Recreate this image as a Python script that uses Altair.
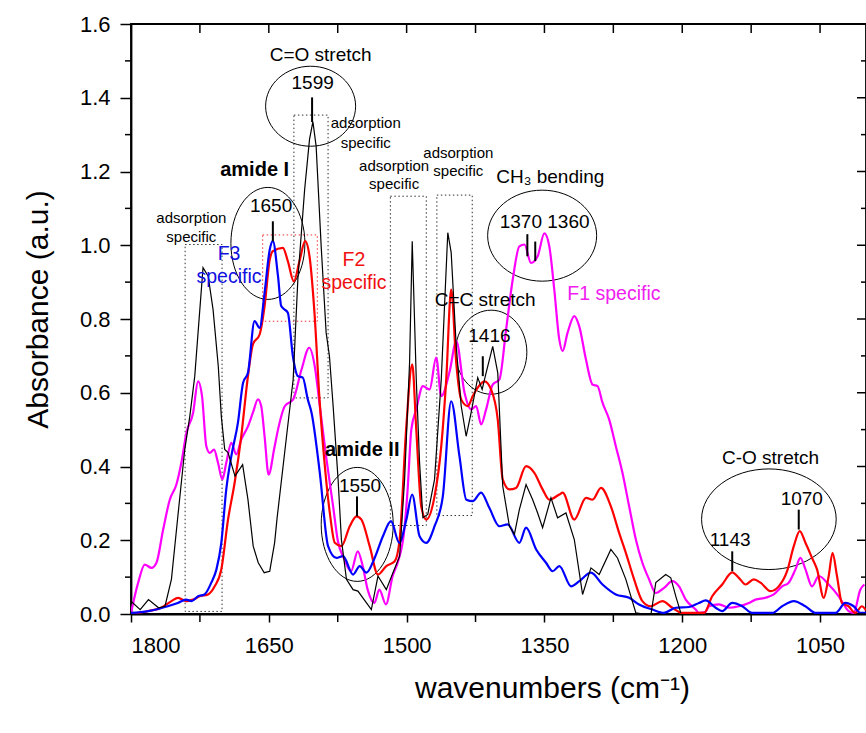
import altair as alt
import pandas as pd

# ---------------- spectra (wavenumber cm-1, absorbance) ----------------
black_w = [1800, 1790, 1781, 1770, 1763, 1756, 1749, 1741.5, 1736, 1730.6, 1727, 1721.6, 1716, 1710.7,
           1705, 1701.7, 1698, 1694.4, 1686.8, 1678.5, 1672.7, 1667, 1661.5, 1655, 1649, 1643.7, 1641,
           1630.7, 1623.5, 1618.4, 1611, 1605.7, 1602, 1598.5, 1593, 1587.6, 1584, 1580, 1574.6, 1571,
           1565.5, 1558.3, 1553, 1538.4, 1531.2, 1522.1, 1514.9, 1507.6, 1502.2, 1496.8, 1493.9, 1489.5,
           1485.9, 1482.3, 1477, 1469.6, 1462.3, 1455.2, 1451.5, 1446, 1440.6, 1435.2, 1429.8, 1422.6,
           1417.8, 1413.5, 1406.3, 1400.8, 1395.4, 1388.1, 1382.7, 1377.3, 1370, 1362.8, 1357.4, 1352,
           1342.9, 1335.7, 1326.6, 1317.5, 1308.5, 1299.4, 1290.4, 1277.7, 1270.5, 1261.4, 1250.5, 1242,
           1234, 1228.8, 1218, 1212.5, 1207, 1201.6]
black_a = [0.035, 0.012, 0.039, 0.017, 0.021, 0.094, 0.265, 0.446, 0.536, 0.645, 0.763, 0.939, 0.916, 0.826,
           0.672, 0.536, 0.446, 0.438, 0.374, 0.405, 0.31, 0.184, 0.139, 0.112, 0.116, 0.193, 0.26,
           0.482, 0.636, 0.907, 1.151, 1.287, 1.335, 1.269, 0.997, 0.763, 0.699, 0.564, 0.365, 0.202,
           0.094, 0.066, 0.062, 0.012, 0.103, 0.066, 0.112, 0.157, 0.365, 0.681, 1.011, 0.636,
           0.41, 0.261, 0.27, 0.365, 0.636, 1.034, 0.98, 0.726, 0.564, 0.482, 0.546, 0.641,
           0.609, 0.654, 0.726, 0.654, 0.347, 0.238, 0.216, 0.283, 0.351, 0.31, 0.274, 0.234,
           0.315, 0.261, 0.274, 0.202, 0.053, 0.125, 0.107, 0.175, 0.152, 0.094, 0.003, 0.0,
           0.0, 0.085, 0.107, 0.098, 0.048, 0.003]

blue_w = [1800, 1781, 1760, 1749, 1740, 1734, 1727, 1720, 1712.6, 1707, 1701.7, 1696.3, 1690.8, 1683.6,
          1678, 1672.7, 1665.5, 1660, 1654.6, 1649, 1645.6, 1640, 1636.5, 1632.9, 1629.3, 1623.8, 1618.4,
          1613, 1607.6, 1603.5, 1594.5, 1585.5, 1576.4, 1569.2, 1558.3, 1551, 1543.8, 1534.8, 1525.8,
          1517, 1508, 1500.3, 1494, 1485.9, 1478.6, 1469.6, 1460.6, 1451.5, 1442.5, 1435, 1428, 1419,
          1410, 1399, 1390, 1377.3, 1370, 1359, 1348.3, 1341, 1333.8, 1321, 1312, 1299.4, 1286.8,
          1272.3, 1257.8, 1247, 1232.5, 1220, 1207, 1192.6, 1181.8, 1174.5, 1163.6, 1156.5, 1145.6,
          1134.7, 1124, 1102, 1091.3, 1078.6, 1066, 1055, 1033, 1022.4, 1013.4, 1006, 1000]
blue_a = [0.003, 0.008, 0.021, 0.03, 0.039, 0.035, 0.048, 0.053, 0.085, 0.121, 0.193, 0.338, 0.428, 0.519,
          0.627, 0.654, 0.794, 0.776, 0.871, 0.988, 1.011, 0.916, 0.835, 0.826, 0.817, 0.699, 0.645,
          0.641, 0.582, 0.546, 0.383, 0.184, 0.152, 0.157, 0.107, 0.13, 0.112, 0.152, 0.211,
          0.252, 0.193, 0.256, 0.324, 0.211, 0.193, 0.238, 0.319, 0.577, 0.428, 0.31, 0.306, 0.329,
          0.288, 0.238, 0.243, 0.193, 0.234, 0.175, 0.139, 0.116, 0.13, 0.075, 0.089, 0.112, 0.08,
          0.053, 0.044, 0.026, 0.012, 0.003, 0.017, 0.019, 0.03, 0.037, 0.017, 0.008, 0.03,
          0.021, 0.003, 0.003, 0.021, 0.035, 0.021, 0.003, 0.003, 0.03, 0.021, 0.003, 0.003]

red_w = [1800, 1781, 1767, 1756, 1748.7, 1739.7, 1732.4, 1725.2, 1716.2, 1708.9, 1701.7, 1694.4, 1687.2,
         1680, 1672.7, 1667.3, 1660, 1654.6, 1649, 1645.6, 1634.7, 1629.3, 1622.8, 1616.6, 1610.5, 1605.7,
         1600.3, 1594.8, 1590.9, 1583.6, 1578.2, 1571, 1561.9, 1554.6, 1549.2, 1540.2, 1531.2, 1522.1,
         1513, 1507.6, 1500.3, 1493.9, 1489.5, 1484.1, 1478.6, 1469.6, 1462.3, 1456.9, 1451.5, 1446,
         1440.6, 1433.5, 1428, 1422.6, 1415.3, 1408.1, 1400.8, 1395.4, 1388.1, 1380.9, 1370, 1361, 1352,
         1344.7, 1333.8, 1330.2, 1317.5, 1304.8, 1297.6, 1288.5, 1277.7, 1268.7, 1261.4, 1252.4, 1243.4,
         1234.3, 1221.6, 1210.8, 1200, 1176.4, 1167.4, 1156.5, 1145.6, 1138.4, 1131.1, 1122.1, 1114.8,
         1104, 1095, 1085.9, 1078.6, 1072.1, 1065.9, 1058.7, 1053.3, 1046, 1040.6, 1036.4, 1031.6,
         1026.2, 1019, 1011.7, 1004.5, 1000]
red_a = [0.0, 0.008, 0.017, 0.035, 0.044, 0.035, 0.039, 0.048, 0.053, 0.075, 0.121, 0.256, 0.356,
         0.482, 0.645, 0.731, 0.758, 0.835, 0.961, 0.984, 0.993, 0.957, 0.902, 0.957, 1.011, 0.97,
         0.817, 0.582, 0.455, 0.274, 0.193, 0.184, 0.238, 0.265, 0.256, 0.184, 0.107, 0.13,
         0.143, 0.202, 0.51, 0.677, 0.5, 0.292, 0.256, 0.319, 0.455, 0.636, 0.88, 0.681,
         0.582, 0.564, 0.591, 0.614, 0.631, 0.609, 0.527, 0.365, 0.338, 0.342, 0.401, 0.383, 0.338,
         0.31, 0.324, 0.329, 0.256, 0.315, 0.31, 0.342, 0.292, 0.22, 0.166, 0.094, 0.035,
         0.021, 0.035, 0.017, 0.003, 0.003, 0.048, 0.08, 0.113, 0.098, 0.08, 0.094, 0.085,
         0.062, 0.075, 0.116, 0.184, 0.225, 0.193, 0.152, 0.121, 0.044, 0.103, 0.166, 0.103,
         0.03, 0.021, 0.003, 0.021, 0.01]

magenta_w = [1800, 1792.2, 1785, 1777.7, 1772.3, 1765, 1757.8, 1750.6, 1745.2, 1739.7, 1732.4, 1727,
             1722.7, 1718, 1714.3, 1709.6, 1705.3, 1700.6, 1696.3, 1690.8, 1685.4, 1680, 1672.7, 1667.3,
             1661.8, 1658.3, 1654.6, 1650.2, 1644, 1640, 1632.5, 1623.5, 1614.4, 1606, 1600, 1594.5,
             1587.2, 1580, 1575, 1567.7, 1560.5, 1553.2, 1547.8, 1542.4, 1535.1, 1529.7, 1522.5, 1515.2,
             1509.8, 1502.5, 1498.9, 1494.9, 1489.5, 1482.3, 1475, 1467.8, 1462.3, 1453, 1446, 1437,
             1429.8, 1424.3, 1418.9, 1413.5, 1406.3, 1399, 1391.7, 1384.5, 1377.3, 1371.8, 1364.6, 1357.4,
             1350.1, 1344.7, 1339.3, 1333.8, 1330.2, 1324.8, 1317.5, 1312.1, 1304.8, 1297.6, 1292.2,
             1286.8, 1279.5, 1272.3, 1265.1, 1257.8, 1250.5, 1243.4, 1236.1, 1228.8, 1219.8, 1210.8,
             1203.5, 1196.2, 1185.4, 1181.8, 1175, 1170.9, 1160, 1149.2, 1138.4, 1127.5, 1120.3, 1109.4,
             1100.4, 1091.3, 1084.1, 1076.8, 1071.4, 1065.9, 1058.7, 1051.4, 1040.6, 1029.7, 1018.9,
             1013.4, 1006.2, 1001.8]
magenta_a = [0.003, 0.085, 0.134, 0.125, 0.139, 0.229, 0.31, 0.351, 0.41, 0.491, 0.546, 0.631,
             0.591, 0.455, 0.437, 0.446, 0.41, 0.365, 0.41, 0.464, 0.433, 0.473, 0.509, 0.546,
             0.582, 0.564, 0.482, 0.378, 0.45, 0.5, 0.564, 0.582, 0.663, 0.722, 0.672, 0.564,
             0.419, 0.292, 0.2, 0.148, 0.116, 0.17, 0.13, 0.066, 0.03, 0.066, 0.026, 0.103,
             0.139, 0.229, 0.338, 0.5, 0.555, 0.618, 0.609, 0.695, 0.591, 0.66, 0.74, 0.6,
             0.555, 0.564, 0.514, 0.555, 0.622, 0.636, 0.772, 0.907, 0.997, 1.002, 0.952, 0.97,
             1.032, 0.997, 0.88, 0.744, 0.713, 0.763, 0.808, 0.78, 0.69, 0.622, 0.618,
             0.573, 0.527, 0.455, 0.383, 0.292, 0.202, 0.139, 0.094, 0.057, 0.071, 0.089,
             0.075, 0.039, 0.012, 0.003, 0.005, 0.021, 0.026, 0.017, 0.021, 0.03, 0.039, 0.044,
             0.053, 0.075, 0.085, 0.121, 0.152, 0.121, 0.075, 0.103, 0.08, 0.048, 0.008,
             0.003, 0.066, 0.08]

# ---------------- annotations ----------------
# dotted boxes: (w_left, w_right, a_bottom, a_top)
box_w1 = [1741.1, 1622.7, 1517.7, 1467.1]
box_w2 = [1700.9, 1585.5, 1478.6, 1428.6]
box_a1 = [0.007, 0.586, 0.24, 0.267]
box_a2 = [1.002, 1.353, 1.133, 1.136]
redbox_w1 = [1656.7]
redbox_w2 = [1597.2]
redbox_a1 = [0.794]
redbox_a2 = [1.028]

# peak marker sticks
stick_w = [1602.9, 1645.6, 1554.0, 1417.1, 1368.6, 1360.0, 1145.6, 1073.2]
stick_a1 = [1.334, 1.011, 0.265, 0.645, 0.970, 0.957, 0.116, 0.229]
stick_a2 = [1.401, 1.065, 0.319, 0.699, 1.030, 1.010, 0.170, 0.283]

# ellipses: centre (w, a)
ell_w = [1604.5, 1651.0, 1553.8, 1408.0, 1352.5, 1105.7]
ell_a = [1.377, 1.005, 0.243, 0.710, 1.026, 0.257]
ell_rx = [45, 37, 36, 35.7, 54.5, 67.3]   # pixel half-widths (style)
ell_ry = [40, 56, 57, 42, 45.5, 50.3]

lab_text = ["C=O stretch", "1599", "1650", "1550", "C=C stretch", "1416", "CH₃ bending", "1370 1360",
            "C-O stretch", "1143", "1070"]
lab_w = [1593.6, 1602.3, 1647.5, 1550.7, 1414.5, 1409.9, 1343.6, 1349.8, 1103.9, 1147.9, 1069.9]
lab_a = [1.515, 1.441, 1.106, 0.347, 0.851, 0.753, 1.186, 1.063, 0.424, 0.202, 0.312]

ads_text = ["adsorption", "specific"] * 4
ads_w = [1544.5, 1544.5, 1513.6, 1513.6, 1443.7, 1443.7, 1734.3, 1734.3]
ads_a = [1.332, 1.278, 1.214, 1.167, 1.249, 1.201, 1.073, 1.023]

bold_text = ["amide I", "amide II"]
bold_w = [1665.4, 1548.3]
bold_a = [1.204, 0.446]

spec_text = ["F3", "specific", "F2", "specific", "F1 specific"]
spec_w = [1693.3, 1693.3, 1557.3, 1557.3, 1274.4]
spec_a = [0.975, 0.914, 0.961, 0.898, 0.869]
spec_col = ["#1010e0", "#1010e0", "#f01010", "#f01010", "#f020f0"]

x_major = [1800, 1650, 1500, 1350, 1200, 1050]
x_minor = [1725, 1575, 1425, 1275, 1125]
y_major = [0.0, 0.2, 0.4, 0.6, 0.8, 1.0, 1.2, 1.4, 1.6]
y_minor = [0.1, 0.3, 0.5, 0.7, 0.9, 1.1, 1.3, 1.5]

# ---------------- chart ----------------
FONT = "Liberation Sans"
W, H = 735, 590

xscale = alt.Scale(domain=[1000, 1800], reverse=True, nice=False, zero=False)
yscale = alt.Scale(domain=[0, 1.6], nice=False, zero=False)
xaxis = alt.Axis(values=x_major, format="d", labelFontSize=22, labelFont=FONT, labelColor="black",
                 tickSize=8, tickWidth=1.5, tickColor="black", domainColor="black", domainWidth=1.8,
                 labelPadding=13, grid=False, title="wavenumbers (cm⁻¹)", titleFont=FONT,
                 titleFontSize=30, titleFontWeight="normal", titleColor="black",
                 titleX=421, titleY=74, titleBaseline="middle", titleAlign="center")
yaxis = alt.Axis(values=y_major, format=".1f", labelFontSize=22, labelFont=FONT, labelColor="black",
                 tickSize=11, tickWidth=1.5, tickColor="black", domainColor="black", domainWidth=1.8,
                 labelPadding=10, grid=False, title="Absorbance (a.u.)", titleFont=FONT,
                 titleFontSize=30, titleFontWeight="normal", titleColor="black",
                 titleX=-93, titleY=285, titleBaseline="middle", titleAlign="center", titleAngle=270)

X = alt.X("w:Q", scale=xscale, axis=xaxis)
Y = alt.Y("a:Q", scale=yscale, axis=yaxis)


def df(**cols):
    return pd.DataFrame(cols)


def line(w, a, color, width, interp):
    return alt.Chart(df(w=w, a=a)).mark_line(
        color=color, strokeWidth=width, clip=True, interpolate=interp
    ).encode(x=X, y=Y)


layers = []

# dotted boxes
layers.append(alt.Chart(df(w=box_w1, w2=box_w2, a=box_a1, a2=box_a2)).mark_rect(
    fillOpacity=0, stroke="#333333", strokeWidth=1, strokeDash=[1.5, 2.5]
).encode(x=X, x2="w2:Q", y=Y, y2="a2:Q"))
layers.append(alt.Chart(df(w=redbox_w1, w2=redbox_w2, a=redbox_a1, a2=redbox_a2)).mark_rect(
    fillOpacity=0, stroke="#f03030", strokeWidth=1, strokeDash=[1.5, 2.5]
).encode(x=X, x2="w2:Q", y=Y, y2="a2:Q"))

# ellipses
k = 0.5523
for w, a, rx, ry in zip(ell_w, ell_a, ell_rx, ell_ry):
    path = (f"M{rx},0C{rx},{k*ry},{k*rx},{ry},0,{ry}C{-k*rx},{ry},{-rx},{k*ry},{-rx},0"
            f"C{-rx},{-k*ry},{-k*rx},{-ry},0,{-ry}C{k*rx},{-ry},{rx},{-k*ry},{rx},0Z")
    layers.append(alt.Chart(df(w=[w], a=[a])).mark_point(
        shape=path, size=4, filled=False, stroke="black", strokeWidth=1, opacity=1
    ).encode(x=X, y=Y))

# spectra
layers.append(line(magenta_w, magenta_a, "#ff00ff", 2.2, "monotone"))
layers.append(line(red_w, red_a, "#ff0000", 2.2, "monotone"))
layers.append(line(blue_w, blue_a, "#0000ff", 2.2, "monotone"))
layers.append(line(black_w, black_a, "black", 1.2, "linear"))

# sticks
layers.append(alt.Chart(df(w=stick_w, a=stick_a1, a2=stick_a2)).mark_rule(
    color="black", strokeWidth=2).encode(x=X, y=Y, y2="a2:Q"))

# texts
layers.append(alt.Chart(df(w=lab_w, a=lab_a, t=lab_text)).mark_text(
    font=FONT, fontSize=19, color="black", align="center", baseline="middle"
).encode(x=X, y=Y, text="t:N"))
layers.append(alt.Chart(df(w=ads_w, a=ads_a, t=ads_text)).mark_text(
    font=FONT, fontSize=15, color="black", align="center", baseline="middle"
).encode(x=X, y=Y, text="t:N"))
layers.append(alt.Chart(df(w=bold_w, a=bold_a, t=bold_text)).mark_text(
    font=FONT, fontSize=20, fontWeight="bold", color="black", align="center", baseline="middle"
).encode(x=X, y=Y, text="t:N"))
layers.append(alt.Chart(df(w=spec_w, a=spec_a, t=spec_text, c=spec_col)).mark_text(
    font=FONT, fontSize=19.5, align="center", baseline="middle"
).encode(x=X, y=Y, text="t:N", color=alt.Color("c:N", scale=None)))

# extra ticks: minor bottom, top (inward), left minor, right (inward)
layers.append(alt.Chart(df(w=x_minor)).mark_rule(color="black", strokeWidth=1.5).encode(
    x=X, y=alt.value(H), y2=alt.value(H + 8)))
layers.append(alt.Chart(df(w=x_major + x_minor)).mark_rule(color="black", strokeWidth=1.5).encode(
    x=X, y=alt.value(0), y2=alt.value(9)))
layers.append(alt.Chart(df(a=y_minor)).mark_rule(color="black", strokeWidth=1.5).encode(
    y=Y, x=alt.value(0), x2=alt.value(-6)))
layers.append(alt.Chart(df(a=y_major)).mark_rule(color="black", strokeWidth=1.5).encode(
    y=Y, x=alt.value(W), x2=alt.value(W - 9)))
layers.append(alt.Chart(df(a=y_minor)).mark_rule(color="black", strokeWidth=1.5).encode(
    y=Y, x=alt.value(W), x2=alt.value(W - 5)))

chart = alt.layer(*layers).properties(
    width=W, height=H,
    autosize=alt.AutoSizeParams(type="none"),
    padding={"left": 131, "top": 24, "right": 0, "bottom": 119},
    background="white",
).configure_view(stroke="black", strokeWidth=1.8)

chart.save("out.html", embed_options={"renderer": "svg", "actions": False})
